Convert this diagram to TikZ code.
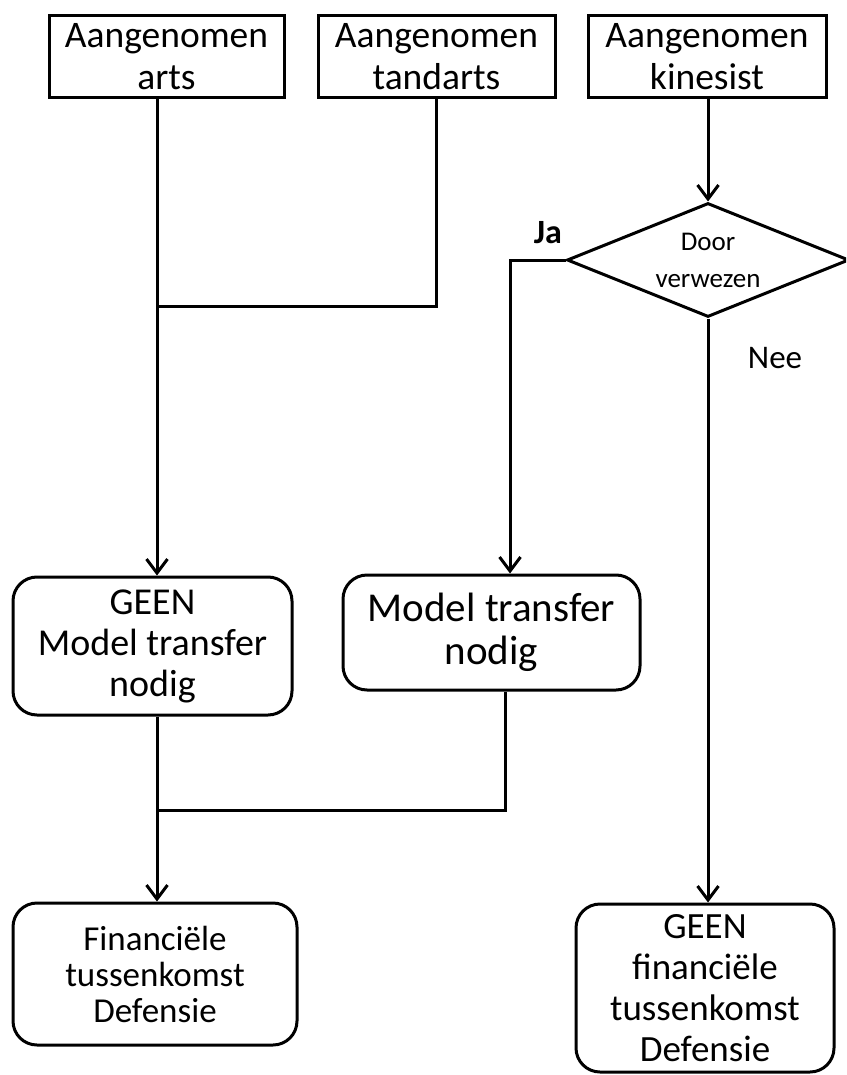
\documentclass[tikz,border=0pt]{standalone}
\usepackage{fontspec}
\setmainfont{Carlito}
\usetikzlibrary{arrows.meta,shapes.geometric}

\begin{document}
\begin{tikzpicture}[x=1pt,y=-1pt,line width=3pt,
  box/.style={draw,rectangle,align=center,inner sep=0pt,line width=3pt},
  rbox/.style={box,rounded corners=24pt},
  decision/.style={draw,diamond,align=center,inner sep=0pt,line width=3pt},
  arr/.style={-{Straight Barb[length=14pt,width=21pt]}},
  f36/.style={font=\fontsize{37.5pt}{42pt}\selectfont},
  lbl/.style={inner sep=0pt}]

\useasboundingbox (0,0) rectangle (846,1075);
\clip (0,0) rectangle (846,1075);

% source boxes
\node[box,f36,minimum width=235pt,minimum height=82pt] (arts) at (166.5,57) {Aangenomen\\arts};
\node[box,f36,minimum width=237pt,minimum height=82pt] (tand) at (436.5,57) {Aangenomen\\tandarts};
\node[box,f36,minimum width=238pt,minimum height=82pt] (kine) at (707,57) {Aangenomen\\kinesist};

% decision
\node[decision,shape aspect=2.47,minimum width=282pt,minimum height=114pt,font=\fontsize{27pt}{37pt}\selectfont] (dec) at (708,260) {Door\\verwezen};

% middle boxes
\node[rbox,minimum width=279pt,minimum height=138pt,font=\fontsize{38pt}{41pt}\selectfont] (geenmt) at (152.5,646) {GEEN\\Model transfer\\nodig};
\node[rbox,minimum width=297pt,minimum height=115pt,font=\fontsize{41pt}{43pt}\selectfont] (mt) at (491.5,632.5) {Model transfer\\nodig};

% outcome boxes
\node[rbox,minimum width=284pt,minimum height=142pt,font=\fontsize{35pt}{36pt}\selectfont] (fin) at (155,974) {Financiële\\tussenkomst\\Defensie};
\node[rbox,minimum width=258pt,minimum height=168pt,font=\fontsize{37pt}{41pt}\selectfont] (geenfin) at (705,988) {GEEN\\financiële\\tussenkomst\\Defensie};

% labels
\node[lbl,font=\fontsize{34pt}{40pt}\selectfont\bfseries] (ja) at (548,233) {Ja};
\node[lbl,font=\fontsize{33pt}{40pt}\selectfont] (nee) at (775,358) {Nee};

% routing points
\coordinate (xL) at (157,0);
\coordinate (j1) at (157,306);
\coordinate (j2) at (157,810);
\coordinate (jaBend) at (510,260);
\coordinate (xM) at (505,0);

% connectors
\draw[arr] (arts.south -| xL) -- (geenmt.north -| xL);
\draw (tand.south) -- (tand.south |- j1) -- (j1);
\draw[arr] (dec.north |- kine.south) -- (dec.north);
\draw[arr] (dec.west) -- (jaBend) -- (mt.north -| jaBend);
\draw[arr] (dec.south) -- (geenfin.north -| dec.south);
\draw[arr] (geenmt.south -| xL) -- (fin.north -| xL);
\draw (mt.south -| xM) -- (xM |- j2) -- (j2);
\end{tikzpicture}
\end{document}
